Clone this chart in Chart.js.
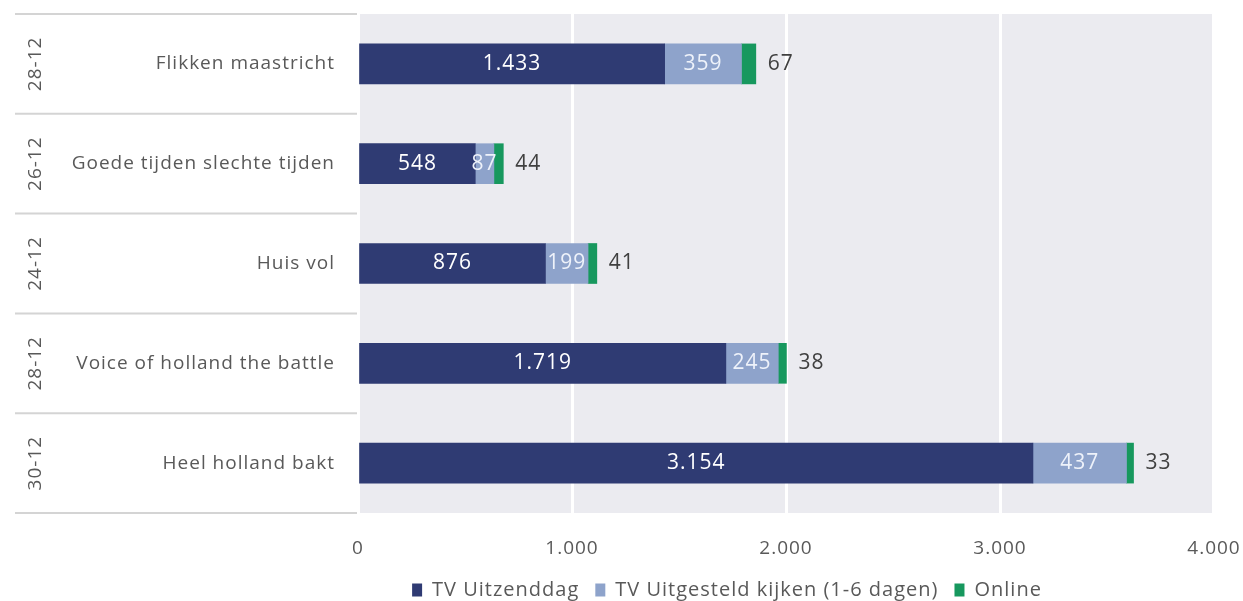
<!DOCTYPE html>
<html>
<head>
<meta charset="utf-8">
<script src="https://cdn.jsdelivr.net/npm/chart.js@4/dist/chart.umd.min.js"></script>
<style>
  html, body { margin: 0; padding: 0; background: #fff; }
  #wrap { width: 1243px; height: 601px; }
</style>
</head>
<body>
<div id="wrap"><canvas id="kijkcijfers"></canvas></div>
<script>
// Data
const programmas = ['Flikken maastricht', 'Goede tijden slechte tijden', 'Huis vol', 'Voice of holland the battle', 'Heel holland bakt'];
const datums = ['28-12', '26-12', '24-12', '28-12', '30-12'];
const tvUitzenddag = [1433, 548, 876, 1719, 3154];
const tvUitgesteld = [359, 87, 199, 245, 437];
const online = [67, 44, 41, 38, 33];
const xTicks = [0, 1000, 2000, 3000, 4000];

const FONT = "'Open Sans', 'Noto Sans', sans-serif";
const GREY_TEXT = '#595959';

function nlNumber(v) {
    return String(v).replace(/\B(?=(\d{3})+(?!\d))/g, '.');
}

// slightly wider text, like the original
const spatiering = {
    id: 'spatiering',
    beforeUpdate(chart) { chart.ctx.letterSpacing = '1px'; },
    beforeDraw(chart) { chart.ctx.letterSpacing = '1px'; }
};

// the legend in the original sits right of centre and a bit lower
const legendaPlek = {
    id: 'legendaPlek',
    afterLayout(chart) {
        const lg = chart.legend;
        const dx = 727 - (lg.left + lg.right) / 2;
        const h = lg.bottom - lg.top;
        lg.left += dx;
        lg.right += dx;
        lg.top = 590 - 16 - 10;
        lg.bottom = lg.top + h;
    }
};

// grey plot background
const achtergrond = {
    id: 'achtergrond',
    beforeDraw(chart) {
        const { ctx, chartArea: a } = chart;
        ctx.save();
        ctx.fillStyle = '#ebebf0';
        ctx.fillRect(a.left, a.top, a.right - a.left - 2, a.bottom - a.top);
        ctx.restore();
    }
};

// separators and rotated dates in the label column
const groepLabels = {
    id: 'groepLabels',
    afterDraw(chart) {
        const { ctx, chartArea: a } = chart;
        const y = chart.scales.y;
        const n = programmas.length;
        const stap = (a.bottom - a.top) / n;
        ctx.save();
        ctx.strokeStyle = '#d4d4d4';
        ctx.lineWidth = 2;
        for (let i = 0; i <= n; i++) {
            const ly = a.top + i * stap;
            ctx.beginPath();
            ctx.moveTo(15, ly);
            ctx.lineTo(a.left - 1, ly);
            ctx.stroke();
        }
        ctx.fillStyle = GREY_TEXT;
        ctx.font = '19px ' + FONT;
        ctx.textAlign = 'center';
        ctx.textBaseline = 'middle';
        datums.forEach(function(d, i) {
            const cy = y.getPixelForValue(i);
            ctx.save();
            ctx.translate(36, cy);
            ctx.rotate(-Math.PI / 2);
            ctx.fillText(d, 0, 0);
            ctx.restore();
        });
        ctx.restore();
    }
};

// value labels on the bars
const waardeLabels = {
    id: 'waardeLabels',
    afterDatasetsDraw(chart) {
        const ctx = chart.ctx;
        ctx.save();
        ctx.font = '21px ' + FONT;
        ctx.textBaseline = 'middle';
        chart.data.datasets.forEach(function(ds, di) {
            const meta = chart.getDatasetMeta(di);
            meta.data.forEach(function(bar, i) {
                const tekst = nlNumber(ds.data[i]);
                if (di < 2) {
                    ctx.fillStyle = di === 0 ? '#ffffff' : '#eef2fa';
                    ctx.textAlign = 'center';
                    ctx.fillText(tekst, (bar.x + bar.base) / 2, bar.y);
                } else {
                    ctx.fillStyle = '#404040';
                    ctx.textAlign = 'left';
                    ctx.fillText(tekst, bar.x + 12, bar.y);
                }
            });
        });
        ctx.restore();
    }
};

new Chart(document.getElementById('kijkcijfers'), {
    type: 'bar',
    data: {
        labels: programmas,
        datasets: [
            { label: 'TV Uitzenddag', data: tvUitzenddag, backgroundColor: '#2f3b73' },
            { label: 'TV Uitgesteld kijken (1-6 dagen)', data: tvUitgesteld, backgroundColor: '#8ea3cb' },
            { label: 'Online', data: online, backgroundColor: '#17985e' }
        ]
    },
    options: {
        indexAxis: 'y',
        responsive: true,
        maintainAspectRatio: false,
        animation: false,
        layout: { padding: { top: 14, right: 29, left: 0, bottom: -15 } },
        datasets: { bar: { barThickness: 40 } },
        scales: {
            x: {
                stacked: true,
                min: 0,
                max: 4000,
                afterBuildTicks(scale) {
                    scale.ticks = xTicks.map(function(v) { return { value: v }; });
                },
                afterFit(scale) {
                    scale.height = 57;
                    scale.paddingLeft = 0;
                    scale.paddingRight = 0;
                },
                border: { display: false },
                grid: { color: '#ffffff', lineWidth: 3, drawTicks: false },
                ticks: {
                    padding: 24,
                    color: GREY_TEXT,
                    font: { family: FONT, size: 19 },
                    callback: function(v) { return nlNumber(v); }
                }
            },
            y: {
                stacked: true,
                border: { display: false },
                grid: { display: false, drawTicks: false },
                afterFit(scale) {
                    scale.width = 358;
                    scale.paddingTop = 0;
                    scale.paddingBottom = 0;
                },
                ticks: {
                    padding: 23,
                    color: GREY_TEXT,
                    font: { family: FONT, size: 19 }
                }
            }
        },
        plugins: {
            legend: {
                position: 'bottom',
                labels: {
                    boxWidth: 10,
                    boxHeight: 13,
                    padding: 16,
                    color: GREY_TEXT,
                    font: { family: FONT, size: 20 }
                }
            },
            tooltip: { enabled: false }
        }
    },
    plugins: [spatiering, legendaPlek, achtergrond, groepLabels, waardeLabels]
});
</script>
</body>
</html>
